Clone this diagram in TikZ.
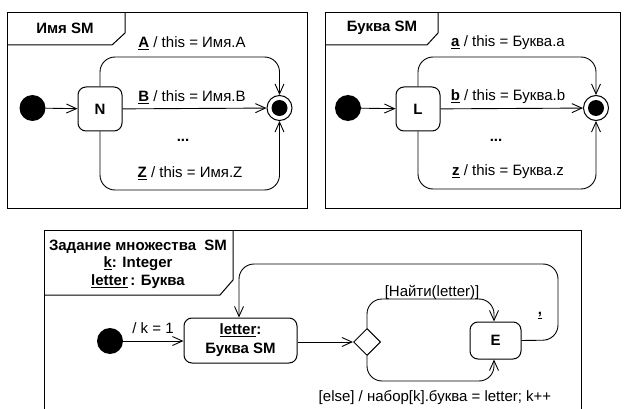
\documentclass[tikz,border=0pt]{standalone}
\usepackage{fontspec}
\setmainfont{Liberation Sans}
\usetikzlibrary{arrows.meta,shapes.geometric}
\tikzset{
  every node/.style={font=\fontsize{15}{17}\selectfont, inner sep=0pt},
  frameline/.style={line width=1pt},
  edge/.style={line width=0.9pt, -{Straight Barb[length=10pt,width=9pt,line width=0.9pt]}, rounded corners=15pt},
  initdot/.style={circle, fill=black, minimum size=26pt},
  finalring/.style={circle, draw, line width=1pt, minimum size=25pt},
  finaldot/.style={circle, fill=black, minimum size=16pt},
  statebox/.style={draw, line width=1pt, rounded corners=8pt, font=\fontsize{15}{17}\selectfont\bfseries},
  titletxt/.style={font=\fontsize{15}{17.5}\selectfont\bfseries, align=center},
  lbl/.style={font=\fontsize{15}{17}\selectfont}
}
\begin{document}
\begin{tikzpicture}[x=1pt,y=-1pt]
\useasboundingbox (0,0) rectangle (624,409);
\fill[white] (0,0) rectangle (624,409);

% ---------- Имя SM ----------
\draw[frameline] (7,13) rectangle (307,208);
\draw[frameline] (7,45) -- (112,45) -- (125,33) -- (125,13);
\node[titletxt] (t1) at (65,28) {Имя SM};
\node[initdot] (i1) at (32.5,108) {};
\node[statebox, minimum width=44pt, minimum height=44pt] (n) at (100,109) {N};
\node[finalring] (f1) at (279.5,108) {};
\node[finaldot] (f1d) at (279.5,108) {};
\draw[edge] (i1) -- (n);
\draw[edge] (n) -- (f1);
\draw[edge] (n.north) -- (100,57) -- (279.5,57) -- (f1.north);
\draw[edge] (n.south) -- (100,190) -- (279.5,190) -- (f1.south);
\node[lbl] (la) at (192,43) {\underline{\textbf{A}} / this = Имя.A};
\node[lbl] (lb) at (192,97) {\underline{\textbf{B}} / this = Имя.B};
\node[lbl] (ld1) at (183,140) {\textbf{...}};
\node[lbl] (lz) at (190,173) {\underline{\textbf{Z}} / this = Имя.Z};

% ---------- Буква SM ----------
\draw[frameline] (325,13) rectangle (620,208);
\draw[frameline] (325,45) -- (427,45) -- (438,33) -- (438,13);
\node[titletxt] (t2) at (382,28) {Буква SM};
\node[initdot] (i2) at (348,108) {};
\node[statebox, minimum width=44pt, minimum height=44pt] (l) at (418,109) {L};
\node[finalring] (f2) at (596,108) {};
\node[finaldot] (f2d) at (596,108) {};
\draw[edge] (i2) -- (l);
\draw[edge] (l) -- (f2);
\draw[edge] (l.north) -- (418,57) -- (596,57) -- (f2.north);
\draw[edge] (l.south) -- (418,189) -- (596,189) -- (f2.south);
\node[lbl] (lsa) at (508,43) {\underline{\textbf{a}} / this = Буква.a};
\node[lbl] (lsb) at (508,97) {\underline{\textbf{b}} / this = Буква.b};
\node[lbl] (ld2) at (496,140) {\textbf{...}};
\node[lbl] (lsz) at (508,172) {\underline{\textbf{z}} / this = Буква.z};

% ---------- Задание множества SM ----------
\draw[frameline] (44,412) -- (44,230) -- (581,230) -- (581,412);
\draw[frameline] (44,295) -- (220,295) -- (233,280) -- (233,230);
\node[titletxt] (t3) at (138,264) {Задание множества\ \ SM\\\underline{k}: Integer\\\underline{letter}\,: Буква};
\node[initdot] (i3) at (110,341) {};
\node[statebox, minimum width=113pt, minimum height=45pt, align=center, font=\fontsize{15}{19}\selectfont\bfseries] (s) at (240.5,340.5) {\underline{letter}:\\Буква SM};
\node[diamond, draw, line width=1pt, minimum width=27pt, minimum height=27pt] (d) at (367,342) {};
\node[statebox, minimum width=51pt, minimum height=37pt] (e) at (495.5,340.5) {E};
\draw[edge] (i3) -- (s.west |- i3);
\draw[edge] (s.east |- d) -- (d.west);
\draw[edge] (d.north) -- (367,299) -- (494,299) -- (e.north -| 494,0);
\draw[edge] (d.south) -- (367,381) -- (494,381) -- (e.south -| 494,0);
\draw[edge] (e.east) -- (558,340) -- (558,264) -- (239,264) -- (s.north -| 239,0);
\node[lbl] (lk) at (153,328) {/ k = 1};
\node[lbl] (lf) at (432,292) {[Найти(letter)]};
\node[lbl] (lc) at (540,316) {\underline{\textbf{,}}};
\node[lbl] (le) at (435,398) {[else] / набор[k].буква = letter; k++};
\end{tikzpicture}
\end{document}
